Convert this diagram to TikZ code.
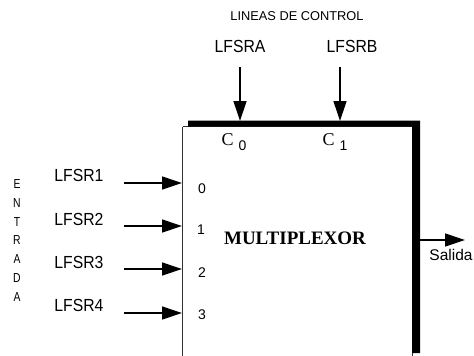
\documentclass[tikz,border=0pt]{standalone}
\usepackage{fontspec}
\setmainfont{Liberation Serif}
\newfontfamily\lsans{Liberation Sans}
\usetikzlibrary{arrows.meta}
\begin{document}
\begin{tikzpicture}[x=1pt,y=-1pt,
  lbl/.style={inner sep=0pt,font=\lsans\fontsize{17.5}{17.5}\selectfont},
  small/.style={inner sep=0pt,font=\lsans\fontsize{13}{13}\selectfont},
  port/.style={inner sep=0pt,font=\lsans\fontsize{14}{14}\selectfont},
  sig/.style={line width=1.3pt,-{Triangle[length=20pt,width=13pt]}},
  thin/.style={line width=1.6pt,draw=black!80}]
\useasboundingbox (0,0) rectangle (474,356);
\clip (0,0) rectangle (474,356);
% box
\draw[thin] (182.5,126.5) -- (182.5,370) (182.5,126.5) -- (412.5,126.5) -- (412.5,370);
\fill[black] (188,120.5) -- (420,120.5) -- (420,353) -- (412,353) -- (412,126.5) -- (188,126.5) -- cycle;
% header
\node[inner sep=0pt,font=\lsans\fontsize{12.8}{12.8}\selectfont] (lc) at (297,16.5) {LINEAS DE CONTROL};
\node[lbl] (la) at (240,46) {\scalebox{0.9}[1]{LFSRA}};
\node[lbl] (lb) at (352,46) {\scalebox{0.9}[1]{LFSRB}};
\coordinate (la0) at (240,67); \coordinate (la1) at (240,121);
\coordinate (lb0) at (340,67); \coordinate (lb1) at (340,121);
\draw[sig] (la0) -- (la1);
\draw[sig] (lb0) -- (lb1);
% C0 C1
\node[inner sep=0pt,anchor=base west] (c0) at (221.5,145) {\fontsize{18}{18}\selectfont C\hspace{5pt}\raisebox{-5.5pt}{\lsans\fontsize{14}{14}\selectfont 0}};
\node[inner sep=0pt,anchor=base west] (c1) at (322.5,145) {\fontsize{18}{18}\selectfont C\hspace{5pt}\raisebox{-5.5pt}{\lsans\fontsize{14}{14}\selectfont 1}};
% inputs
\foreach \i/\y/\ly in {1/183/175,2/226/219,3/269/262,4/313/305}{
  \node[lbl] (l\i) at (79,\ly) {\scalebox{0.9}[1]{LFSR\i}};
  \coordinate (s\i) at (124,\y);
  \coordinate (p\i) at (182,\y);
  \draw[sig] (s\i) -- (p\i);
}
\node[port] (n0) at (202,188.5) {0};
\node[port] (n1) at (201,230) {1};
\node[port] (n2) at (202,272.5) {2};
\node[port] (n3) at (202,315) {3};
% ENTRADA
\foreach \ch [count=\k from 0] in {E,N,T,R,A,D,A}{
  \node[small] (e\k) at (17,{184+18.8*\k}) {\scalebox{0.8}[1]{\ch}};
}
% MULTIPLEXOR
\node[inner sep=0pt,font=\bfseries\fontsize{19}{19}\selectfont] (mux) at (295,238) {MULTIPLEXOR};
% output
\coordinate (o0) at (412,240); \coordinate (o1) at (465,240);
\draw[sig] (o0) -- (o1);
\node[inner sep=0pt,font=\lsans\fontsize{15.5}{15.5}\selectfont] (sal) at (451,255) {Salida};
\end{tikzpicture}
\end{document}
